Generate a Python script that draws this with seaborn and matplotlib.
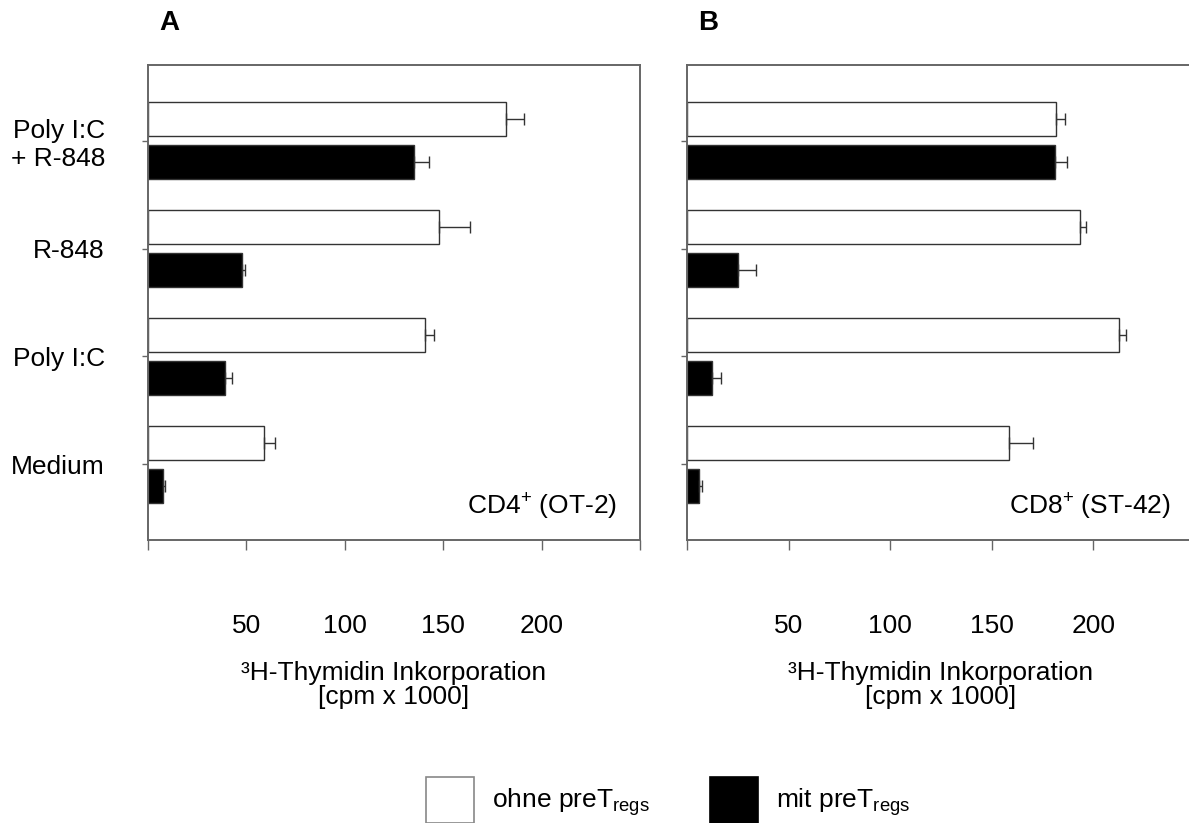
import matplotlib
matplotlib.use("Agg")
import matplotlib.pyplot as plt
from matplotlib.patches import Patch
import seaborn as sns
import pandas as pd
import numpy as np

# ---- data ----
conditions = ["Poly I:C\n+ R-848", "R-848", "Poly I:C", "Medium"]
treatments = ["ohne", "mit"]

a_ohne = [182, 148, 141, 59]
a_ohne_err = [9, 15.5, 4.5, 5.5]
a_mit = [135, 48, 39, 7.5]
a_mit_err = [8, 1.5, 3.5, 1.0]

b_ohne = [181.5, 193.5, 212.5, 158.5]
b_ohne_err = [4.5, 3, 3.5, 12]
b_mit = [181, 25, 12.5, 6]
b_mit_err = [6, 9, 4, 1.2]

panel_letters = ["A", "B"]
panel_notes = ["CD4$^{+}$ (OT-2)", "CD8$^{+}$ (ST-42)"]
x_ticks = [0, 50, 100, 150, 200, 250]
x_ticklabels = ["", "50", "100", "150", "200", ""]
xlabel = "³H-Thymidin Inkorporation\n[cpm x 1000]"
legend_labels = ["ohne preT$_{regs}$", "mit preT$_{regs}$"]


def make_df(ohne, ohne_err, mit, mit_err):
    rows = []
    for c, v, e in zip(conditions, ohne, ohne_err):
        rows.append(dict(cond=c, treat="ohne", value=v, err=e))
    for c, v, e in zip(conditions, mit, mit_err):
        rows.append(dict(cond=c, treat="mit", value=v, err=e))
    return pd.DataFrame(rows)


dfs = [make_df(a_ohne, a_ohne_err, a_mit, a_mit_err),
       make_df(b_ohne, b_ohne_err, b_mit, b_mit_err)]

sns.set_theme(style="white")
plt.rcParams["font.family"] = ["Liberation Sans", "DejaVu Sans"]
plt.rcParams["mathtext.default"] = "regular"
plt.rcParams["text.color"] = "black"
plt.rcParams["axes.labelcolor"] = "black"
plt.rcParams["xtick.labelcolor"] = "black"
plt.rcParams["ytick.labelcolor"] = "black"

W, H = 1189, 823
fig = plt.figure(figsize=(W / 100, H / 100), dpi=100)

spine_col = "#666666"
axes_px = [(148, 640), (687, 1195)]
top_px, bot_px = 65, 540

for i, (df, (l, r)) in enumerate(zip(dfs, axes_px)):
    ax = fig.add_axes([l / W, 1 - bot_px / H, (r - l) / W, (bot_px - top_px) / H])
    sns.barplot(data=df, y="cond", x="value", hue="treat", orient="h",
                order=conditions, hue_order=treatments,
                palette={"ohne": "white", "mit": "black"},
                edgecolor="#333333", linewidth=1.0, width=0.8, gap=0.2,
                errorbar=None, legend=False, ax=ax)
    # error bars (one-sided) from data
    ys, xs, es = [], [], []
    for p in ax.patches:
        yc = p.get_y() + p.get_height() / 2
        cat = int(round(yc))
        tr = "ohne" if yc < cat else "mit"
        row = df[(df.cond == conditions[cat]) & (df.treat == tr)].iloc[0]
        ys.append(yc)
        xs.append(row.value)
        es.append(row.err)
    ax.errorbar(xs, ys, xerr=[np.zeros(len(es)), es], fmt="none",
                ecolor="#333333", elinewidth=1.0, capsize=4.5, capthick=1.0)

    ax.set_xlim(0, 250)
    ax.set_ylim(3.7, -0.7)
    ax.set_xticks(x_ticks)
    ax.set_xticklabels(x_ticklabels)
    ax.set_yticks(range(len(conditions)))
    if i == 0:
        ax.set_yticklabels(conditions, ha="right", multialignment="right")
    else:
        ax.set_yticklabels([])
    ax.tick_params(axis="x", direction="out", length=7, width=1.0,
                   color=spine_col, pad=46, labelsize=19, bottom=True,
                   labelcolor="black")
    ax.tick_params(axis="y", direction="out", length=4, width=1.0,
                   color=spine_col, pad=27, labelsize=19, left=True,
                   labelcolor="black")
    ax.set_ylabel("")
    ax.set_xlabel(xlabel, fontsize=19, linespacing=1.0, color="black")
    ax.xaxis.set_label_coords(0.5, -0.255)
    for s in ax.spines.values():
        s.set_visible(True)
        s.set_color(spine_col)
        s.set_linewidth(1.4)
    ax.text(0.953, 0.069, panel_notes[i], transform=ax.transAxes,
            ha="right", va="center", fontsize=19, color="black")
    fig.text((l + 11) / W, 1 - 23 / H, panel_letters[i], fontsize=20,
             fontweight="bold", ha="left", va="center", color="black")

handles = [Patch(facecolor="white", edgecolor="#888888", linewidth=1.2),
           Patch(facecolor="black", edgecolor="black", linewidth=1.2)]
fig.legend(handles, legend_labels, loc="upper left",
           bbox_to_anchor=(426 / W, 1 - 777 / H), ncol=2, frameon=False,
           fontsize=19, handlelength=1.82, handleheight=2.3,
           handletextpad=0.68, columnspacing=2.3, borderpad=0,
           borderaxespad=0, labelcolor="black")

fig.savefig("out.png", dpi=100)
